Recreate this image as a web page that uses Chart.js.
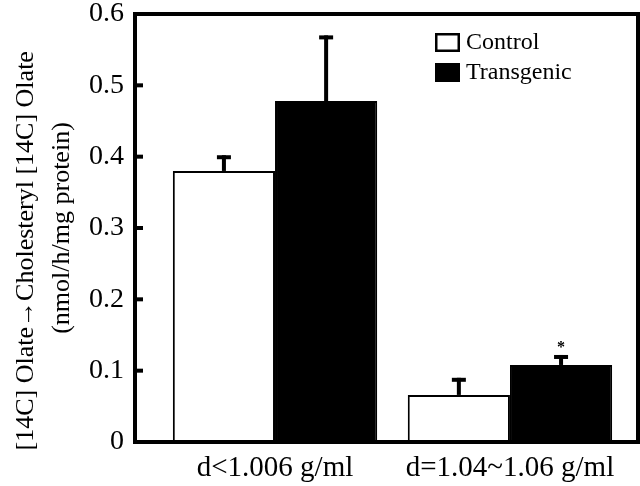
<!DOCTYPE html>
<html>
<head>
<meta charset="utf-8">
<script src="https://cdn.jsdelivr.net/npm/chart.js@4"></script>
<style>
html,body{margin:0;padding:0;background:#fff;}
#wrap{width:640px;height:486px;}
</style>
</head>
<body>
<div id="wrap"><canvas id="mycanvas" width="640" height="486"></canvas></div>
<script>
// values
var categories = ["d<1.006 g/ml", "d=1.04~1.06 g/ml"];
var controlMean = [0.38, 0.066];
var controlErr = [0.022, 0.024];
var transMean = [0.478, 0.108];
var transErr = [0.092, 0.014];
var transMark = ["", "*"];
var yTicks = [0, 0.1, 0.2, 0.3, 0.4, 0.5, 0.6];

var serif = "'Liberation Serif', 'DejaVu Serif', serif";

function points(vals){
	return vals.map(function(v, i){ return { x: i, y: v }; });
}

// error bars, frame, inner ticks, legend and asterisk
var extras = {
	id: "extras",
	afterDatasetsDraw: function(chart){
		var ctx = chart.ctx;
		var y = chart.scales.y;
		var area = chart.chartArea;
		var errs = [controlErr, transErr];
		var means = [controlMean, transMean];
		ctx.save();
		ctx.fillStyle = "#000";
		for (var d = 0; d < 2; d++) {
			var meta = chart.getDatasetMeta(d);
			for (var i = 0; i < meta.data.length; i++) {
				var bar = meta.data[i];
				var v = means[d][i];
				var yTop = y.getPixelForValue(v + errs[d][i]);
				var yBar = y.getPixelForValue(v);
				ctx.fillRect(bar.x - 2, yTop, 4, yBar - yTop);
				ctx.fillRect(bar.x - 7, yTop, 14, 4);
				if (d == 1 && transMark[i]) {
					ctx.font = "bold 16px " + serif;
					ctx.textAlign = "center";
					ctx.textBaseline = "bottom";
					ctx.fillText(transMark[i], bar.x, yTop + 1);
				}
			}
		}
		// frame
		ctx.lineWidth = 4;
		ctx.strokeStyle = "#000";
		ctx.strokeRect(area.left, area.top, area.right - area.left, area.bottom - area.top);
		// inner ticks
		for (var t = 0; t < yTicks.length; t++) {
			var py = y.getPixelForValue(yTicks[t]);
			ctx.fillRect(area.left, py - 2, 8, 4);
		}
		// legend
		var lx = 435, ly = 33;
		ctx.font = "24px " + serif;
		ctx.textAlign = "left";
		ctx.textBaseline = "middle";
		for (var k = 0; k < 2; k++) {
			var ds = chart.data.datasets[k];
			var by = ly + k * 30;
			ctx.fillStyle = ds.backgroundColor;
			ctx.fillRect(lx, by, 25, 19);
			ctx.lineWidth = 2.5;
			ctx.strokeStyle = "#000";
			ctx.strokeRect(lx + 1.25, by + 1.25, 22.5, 16.5);
			ctx.fillStyle = "#000";
			ctx.fillText(ds.label, lx + 31, by + 10);
		}
		ctx.restore();
	}
};

var ctx = document.getElementById("mycanvas");
var chart = new Chart(ctx, {
	type: "bar",
	data: {
		datasets: [
			{
				label: "Control",
				data: points(controlMean),
				backgroundColor: "#ffffff",
				borderColor: "#000000",
				borderWidth: 2,
				categoryPercentage: 0.87,
				barPercentage: 1.0
			},
			{
				label: "Transgenic",
				data: points(transMean),
				backgroundColor: "#000000",
				borderColor: "#000000",
				borderWidth: 2,
				categoryPercentage: 0.87,
				barPercentage: 1.0
			}
		]
	},
	options: {
		responsive: false,
		animation: false,
		layout: { padding: { top: 14, right: 2, left: 0, bottom: 0 } },
		plugins: {
			legend: { display: false },
			tooltip: { enabled: false }
		},
		scales: {
			x: {
				type: "linear",
				offset: false,
				bounds: "data",
				min: -0.596,
				max: 1.545,
				afterBuildTicks: function(s){ s.ticks = categories.map(function(c, i){ return { value: i }; }); },
				grid: { display: false, drawTicks: false },
				border: { display: false },
				ticks: {
					color: "#000",
					font: { family: serif, size: 29 },
					padding: 9,
					callback: function(v){ return categories[v]; }
				},
				afterFit: function(s){ s.height = 44; s.paddingLeft = 0; s.paddingRight = 0; }
			},
			y: {
				min: 0,
				max: 0.6,
				afterBuildTicks: function(s){ s.ticks = yTicks.map(function(v){ return { value: v }; }); },
				grid: { display: false, drawTicks: false },
				border: { display: false },
				ticks: {
					color: "#000",
					font: { family: serif, size: 28 },
					padding: 11,
					callback: function(v){ return v === 0 ? "0" : v.toFixed(1); }
				},
				title: {
					display: true,
					text: ["[14C] Olate\u2192Cholesteryl [14C] Olate       ", "(nmol/h/mg protein)"],
					color: "#000",
					font: { family: serif, size: 26, lineHeight: 1.4 },
					padding: { top: 8, bottom: 0 }
				},
				afterFit: function(s){ s.width = 135; s.paddingTop = 0; s.paddingBottom = 0; }
			}
		}
	},
	plugins: [extras]
});
</script>
</body>
</html>
